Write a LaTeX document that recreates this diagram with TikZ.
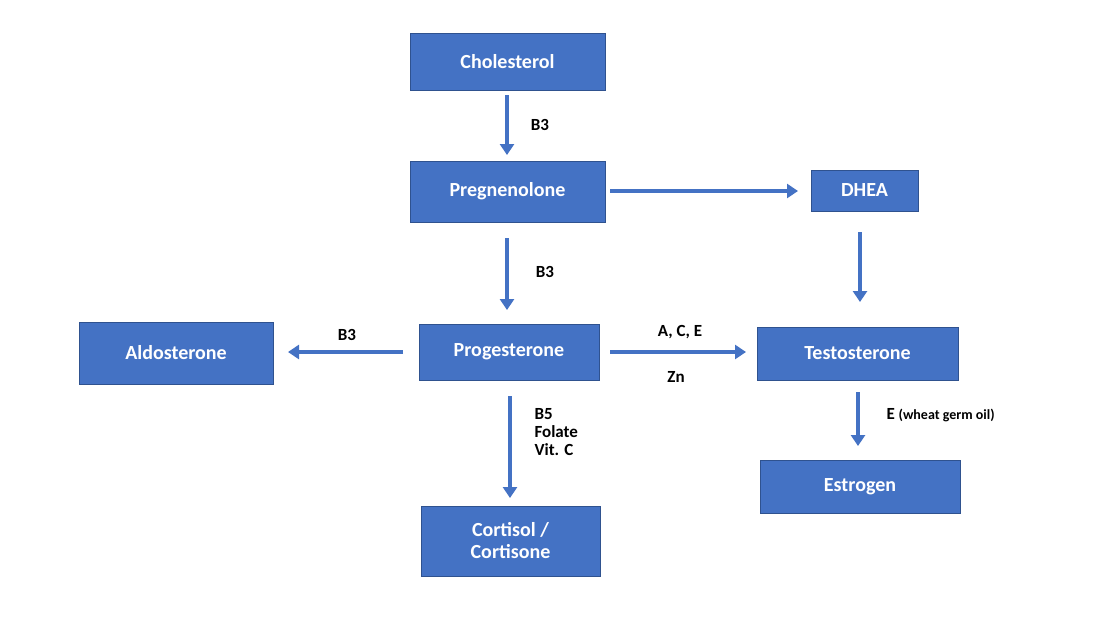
\documentclass[tikz,border=0pt]{standalone}
\usepackage{fontspec}
\setmainfont{Carlito}
\usetikzlibrary{arrows.meta}
\definecolor{bx}{HTML}{4472C4}
\definecolor{bd}{HTML}{2F528F}
\begin{document}
\begin{tikzpicture}[x=1pt,y=-1pt,
  box/.style={fill=bx,draw=bd,line width=0.8pt,text=white,font=\bfseries\fontsize{20}{22}\selectfont,align=center},
  arr/.style={draw=bx,line width=4pt,-{Triangle[width=14pt,length=11pt]}},
  lab/.style={font=\bfseries\fontsize{17}{21}\selectfont,align=left}]
\useasboundingbox (0,0) rectangle (1094,622);
\newcommand\bx[6]{\node[box,minimum width=#4-#2,minimum height=#5-#3] (#1) at ({(#2+#4)/2},{(#3+#5)/2}) {#6};}
\bx{chol}{410}{33}{605}{90}{Cholesterol}
\bx{preg}{410}{161}{605}{222}{Pregnenolone}
\bx{dhea}{811}{170}{918}{211}{DHEA}
\bx{aldo}{79}{322}{273}{384}{Aldosterone}
\bx{prog}{419}{324}{599}{380}{Progesterone}
\bx{test}{757}{327}{958}{380}{Testosterone}
\bx{estr}{760}{460}{960}{513}{Estrogen}
\bx{cort}{421}{506}{600}{576}{Cortisol /\\Cortisone}
\coordinate (a1) at (507,95); \coordinate (a2) at (507,155);
\coordinate (b1) at (610,191); \coordinate (b2) at (798,191);
\coordinate (c1) at (860,232); \coordinate (c2) at (860,302);
\coordinate (d1) at (507,238); \coordinate (d2) at (507,310);
\coordinate (e1) at (403,352); \coordinate (e2) at (288,352);
\coordinate (f1) at (610,352); \coordinate (f2) at (746,352);
\coordinate (g1) at (510,396); \coordinate (g2) at (510,498);
\coordinate (h1) at (858,392); \coordinate (h2) at (858,446);
\draw[arr] (a1)--(a2); \draw[arr] (b1)--(b2); \draw[arr] (c1)--(c2);
\draw[arr] (d1)--(d2); \draw[arr] (e1)--(e2); \draw[arr] (f1)--(f2);
\draw[arr] (g1)--(g2); \draw[arr] (h1)--(h2);
\node[lab] (l1) at (540,125) {B3};
\node[lab] (l2) at (545,272) {B3};
\node[lab] (l3) at (347,335) {B3};
\node[lab] (l4) at (680,332) {A, C, E};
\node[lab] (l5) at (676,377) {Zn};
\node[lab,anchor=north west] (l6) at (531,405) {B5\\[-3pt]Folate\\[-3pt]Vit. C};
\node[lab,anchor=west] (l7) at (883,415) {E {\fontsize{14}{16}\selectfont (wheat germ oil)}};
\end{tikzpicture}
\end{document}
